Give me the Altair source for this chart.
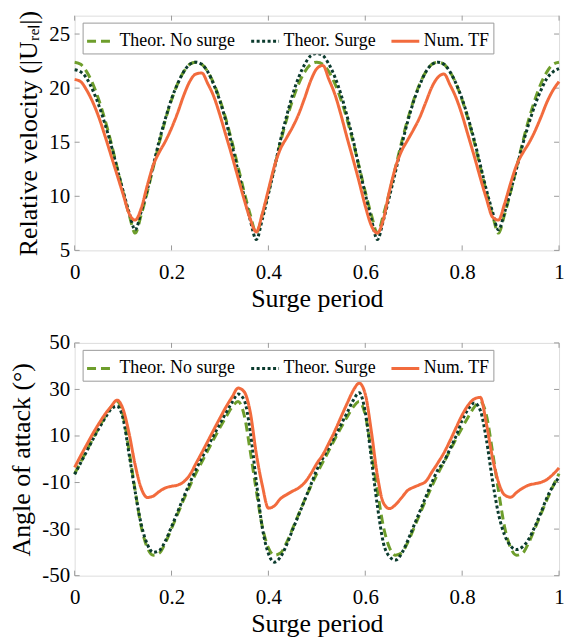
import altair as alt
import pandas as pd

FONT = "Liberation Serif"

# sample positions (surge period fraction)
X = [0, 0.0125, 0.025, 0.0375, 0.05, 0.0625, 0.075, 0.0875, 0.1, 0.1125,
     0.125, 0.1375, 0.15, 0.1625, 0.175, 0.1875, 0.2, 0.2125, 0.225, 0.2375,
     0.25, 0.2625, 0.275, 0.2875, 0.3, 0.3125, 0.325, 0.3375, 0.35, 0.3625,
     0.375, 0.3875, 0.4, 0.4125, 0.425, 0.4375, 0.45, 0.4625, 0.475, 0.4875,
     0.5, 0.5125, 0.525, 0.5375, 0.55, 0.5625, 0.575, 0.5875, 0.6, 0.6125,
     0.625, 0.6375, 0.65, 0.6625, 0.675, 0.6875, 0.7, 0.7125, 0.725, 0.7375,
     0.75, 0.7625, 0.775, 0.7875, 0.8, 0.8125, 0.825, 0.8375, 0.85, 0.8625,
     0.875, 0.8875, 0.9, 0.9125, 0.925, 0.9375, 0.95, 0.9625, 0.975, 0.9875,
     1.0]

SERIES = ["Theor. No surge", "Theor. Surge", "Num. TF"]
COLORS = ["#6E9E2C", "#0B3B2E", "#F26B3D"]
DASHES = [[9, 5], [3, 2.5], [1, 0]]

# Relative velocity |U_rel|
TOP_NOSURGE = [22.4, 22.2, 21.5, 20.4, 18.9, 17.1, 15.0, 12.7, 10.4, 8.3,
               6.6, 8.3, 10.4, 12.7, 15.0, 17.1, 18.9, 20.4, 21.5, 22.2,
               22.4, 22.2, 21.5, 20.4, 18.9, 17.1, 15.0, 12.7, 10.4, 8.3,
               6.6, 8.3, 10.4, 12.7, 15.0, 17.1, 18.9, 20.4, 21.5, 22.2,
               22.4, 22.2, 21.5, 20.4, 18.9, 17.1, 15.0, 12.7, 10.4, 8.3,
               6.6, 8.3, 10.4, 12.7, 15.0, 17.1, 18.9, 20.4, 21.5, 22.2,
               22.4, 22.2, 21.5, 20.4, 18.9, 17.1, 15.0, 12.7, 10.4, 8.3,
               6.6, 8.3, 10.4, 12.7, 15.0, 17.1, 18.9, 20.4, 21.5, 22.2,
               22.4]
TOP_SURGE = [21.7, 21.5, 20.9, 19.8, 18.4, 16.7, 14.8, 12.6, 10.5, 8.5,
             6.9, 8.6, 10.6, 12.9, 15.2, 17.2, 19.0, 20.4, 21.5, 22.2,
             22.4, 22.2, 21.5, 20.3, 18.8, 16.9, 14.7, 12.3, 10.0, 7.8,
             6.0, 7.9, 10.2, 12.6, 15.2, 17.4, 19.4, 21.0, 22.2, 23.0,
             23.2, 23.0, 22.2, 21.0, 19.4, 17.4, 15.2, 12.6, 10.2, 7.9,
             6.0, 7.8, 10.0, 12.3, 14.7, 16.9, 18.8, 20.3, 21.5, 22.2,
             22.4, 22.2, 21.5, 20.4, 19.0, 17.2, 15.2, 12.9, 10.6, 8.6,
             6.9, 8.5, 10.5, 12.6, 14.8, 16.7, 18.4, 19.8, 20.9, 21.5,
             21.8]
TOP_TF = [20.8, 20.6, 19.8, 18.7, 17.3, 15.6, 13.8, 12.0, 10.2, 8.4,
          7.8, 8.9, 11.0, 12.9, 14.1, 15.1, 16.3, 17.7, 19.3, 20.6,
          21.3, 21.4, 20.4, 19.2, 17.5, 15.6, 13.7, 11.7, 9.7, 7.9,
          6.7, 8.4, 10.6, 12.8, 14.4, 15.4, 16.4, 17.6, 19.1, 20.7,
          21.8, 22.1, 20.8, 19.4, 17.5, 15.4, 13.4, 11.3, 9.1, 7.3,
          6.6, 7.9, 10.5, 12.7, 14.2, 15.2, 16.2, 17.3, 18.7, 20.1,
          21.0, 21.3, 20.3, 19.1, 17.5, 15.6, 13.7, 11.7, 9.8, 8.1,
          7.8, 9.3, 11.2, 12.9, 14.0, 14.9, 16.0, 17.3, 18.7, 19.8,
          20.6]

# Angle of attack (deg)
BOT_NOSURGE = [-6.2, -1.2, 3.8, 8.8, 13.6, 18.2, 22.4, 24.8, 19.0, 3.5,
               -13.5, -29.0, -38.0, -41.2, -40.3, -35.8, -29.8, -23.6, -17.4, -11.6,
               -6.2, -1.2, 3.8, 8.8, 13.6, 18.2, 22.4, 24.8, 19.0, 3.5,
               -13.5, -29.0, -38.0, -41.2, -40.3, -35.8, -29.8, -23.6, -17.4, -11.6,
               -6.2, -1.2, 3.8, 8.8, 13.6, 18.2, 22.4, 24.8, 19.0, 3.5,
               -13.5, -29.0, -38.0, -41.2, -40.3, -35.8, -29.8, -23.6, -17.4, -11.6,
               -6.2, -1.2, 3.8, 8.8, 13.6, 18.2, 22.4, 24.8, 19.0, 3.5,
               -13.5, -29.0, -38.0, -41.2, -40.3, -35.8, -29.8, -23.6, -17.4, -11.6,
               -6.2]
BOT_SURGE = [-6.5, -1.5, 3.5, 8.5, 13.2, 17.6, 21.5, 22.8, 17.5, 2.0,
             -14.0, -28.0, -36.5, -40.0, -39.2, -35.0, -29.0, -22.7, -16.3, -10.3,
             -4.6, 0.5, 5.5, 10.5, 15.3, 20.0, 24.5, 28.0, 25.5, 12.0,
             -9.5, -29.5, -40.5, -44.2, -42.0, -36.8, -30.3, -23.9, -17.5, -11.0,
             -4.5, 0.5, 5.2, 10.0, 15.0, 20.0, 25.3, 28.6, 20.3, 0.5,
             -20.0, -36.0, -41.8, -43.3, -40.5, -35.0, -28.7, -22.5, -16.1, -10.0,
             -4.5, -1.0, 4.5, 10.0, 16.8, 21.5, 24.2, 21.0, 8.5, -9.0,
             -23.5, -32.5, -37.2, -38.8, -37.5, -34.3, -29.0, -23.0, -16.5, -11.5,
             -7.8]
BOT_TF = [-3.5, 1.5, 6.3, 11.0, 15.3, 19.3, 22.6, 25.4, 21.5, 11.0,
          -2.5, -12.5, -16.4, -15.8, -13.8, -12.3, -11.6, -11.1, -9.7, -6.8,
          -2.0, 2.8, 7.8, 12.8, 17.7, 22.5, 26.7, 30.6, 29.0, 20.3,
          2.4, -11.3, -21.0, -20.0, -16.9, -15.2, -13.7, -12.3, -10.0, -6.3,
          -1.8, 2.0, 7.0, 12.3, 18.2, 24.0, 29.5, 32.7, 28.0, 12.0,
          -7.0, -18.8, -21.2, -19.5, -16.5, -13.4, -12.0, -10.9, -9.5, -5.5,
          -1.5, 2.8, 8.0, 13.6, 19.0, 23.3, 25.9, 26.6, 15.3, 0.8,
          -9.8, -15.3, -16.3, -14.2, -12.4, -11.1, -10.5, -9.9, -8.7, -6.5,
          -3.7]

XTICKS = [0, 0.2, 0.4, 0.6, 0.8, 1]
TOP_YTICKS = [5, 10, 15, 20, 25]
BOT_YTICKS = [-50, -30, -10, 10, 30, 50]
TOP_YDOMAIN = [5, 26.7]
BOT_YDOMAIN = [-50, 50]

FRAME = "#9a9a9a"
W = 487


def long_df(a, b, c):
    rows = []
    for name, ys in zip(SERIES, (a, b, c)):
        for x, y in zip(X, ys):
            rows.append({"x": x, "y": y, "series": name})
    return pd.DataFrame(rows)


def panel(df, ydomain, yticks, ytitle, h):
    xs = alt.Scale(domain=[0, 1], nice=False, zero=False)
    ys = alt.Scale(domain=ydomain, nice=False, zero=False)
    xaxis = alt.Axis(values=XTICKS, format="~g", title="Surge period",
                     grid=False, ticks=False, domain=False,
                     labelFont=FONT, labelFontSize=21, labelColor="black",
                     labelPadding=11, labelFlush=False,
                     titleFont=FONT, titleFontSize=26, titleFontWeight="normal",
                     titleColor="black", titlePadding=3)
    yaxis = alt.Axis(values=yticks, labelExpr="'' + datum.value", title=ytitle,
                     grid=False, ticks=False, domain=False,
                     labelFont=FONT, labelFontSize=21, labelColor="black",
                     labelPadding=5, labelFlush=False,
                     titleFont=FONT, titleFontSize=26, titleFontWeight="normal",
                     titleColor="black", titlePadding=7)
    X_ENC = alt.X("x:Q", scale=xs, axis=xaxis)
    Y_ENC = alt.Y("y:Q", scale=ys, axis=yaxis)
    leg = alt.Legend(title=None, orient="none", legendX=8, legendY=7,
                     direction="horizontal", symbolType="stroke",
                     symbolSize=784, symbolStrokeWidth=3,
                     labelFont=FONT, labelFontSize=18, labelColor="black",
                     labelLimit=0, fillColor="white", strokeColor=FRAME,
                     padding=3, columnPadding=9, labelOffset=3, cornerRadius=0)
    lines = alt.Chart(df).mark_line(strokeWidth=3, interpolate="monotone").encode(
        x=X_ENC, y=Y_ENC,
        color=alt.Color("series:N", scale=alt.Scale(domain=SERIES, range=COLORS),
                        sort=SERIES, legend=leg),
        strokeDash=alt.StrokeDash("series:N", scale=alt.Scale(domain=SERIES, range=DASHES),
                                  sort=SERIES, legend=leg),
    )
    xt = pd.DataFrame({"x": XTICKS})
    yt = pd.DataFrame({"y": yticks})
    tick_b = alt.Chart(xt).mark_rule(color=FRAME, strokeWidth=1).encode(
        x=X_ENC, y=alt.value(h), y2=alt.value(h - 5))
    tick_t = alt.Chart(xt).mark_rule(color=FRAME, strokeWidth=1).encode(
        x=X_ENC, y=alt.value(0), y2=alt.value(5))
    tick_l = alt.Chart(yt).mark_rule(color=FRAME, strokeWidth=1).encode(
        y=Y_ENC, x=alt.value(0), x2=alt.value(5))
    tick_r = alt.Chart(yt).mark_rule(color=FRAME, strokeWidth=1).encode(
        y=Y_ENC, x=alt.value(W), x2=alt.value(W - 5))
    return alt.layer(tick_b, tick_t, tick_l, tick_r, lines).properties(width=W, height=h)


top = panel(long_df(TOP_NOSURGE, TOP_SURGE, TOP_TF), TOP_YDOMAIN, TOP_YTICKS,
            "Relative velocity (|U\u1d63\u2091\u2097|)", 236)
bottom = panel(long_df(BOT_NOSURGE, BOT_SURGE, BOT_TF), BOT_YDOMAIN, BOT_YTICKS,
               "Angle of attack (\u00b0)", 234)

chart = alt.vconcat(top, bottom, spacing=19).resolve_scale(
    color="independent", strokeDash="independent", x="independent", y="independent"
).resolve_legend(color="independent", strokeDash="independent").properties(
    padding={"left": 0, "top": 0, "right": 0, "bottom": 0}
).configure_view(stroke=FRAME, strokeWidth=1).configure(background="white")

chart.save("out.html", embed_options={"renderer": "svg", "actions": False})
